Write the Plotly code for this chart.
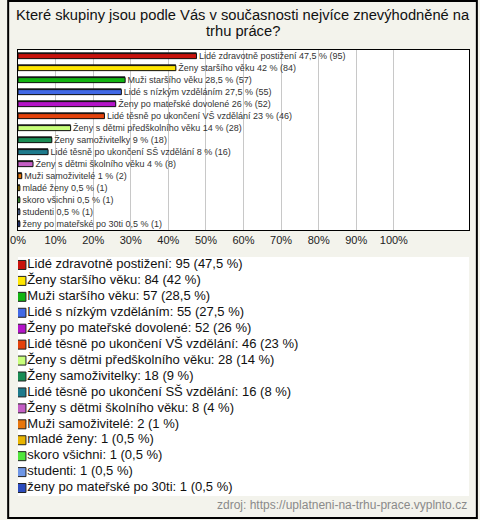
import plotly.graph_objects as go

categories = [
    "Lidé zdravotně postižení",
    "Ženy staršího věku",
    "Muži staršího věku",
    "Lidé s nízkým vzděláním",
    "Ženy po mateřské dovolené",
    "Lidé těsně po ukončení VŠ vzdělání",
    "Ženy s dětmi předškolního věku",
    "Ženy samoživitelky",
    "Lidé těsně po ukončení SŠ vzdělání",
    "Ženy s dětmi školního věku",
    "Muži samoživitelé",
    "mladé ženy",
    "skoro všichni",
    "studenti",
    "ženy po mateřské po 30ti",
]
counts = [95, 84, 57, 55, 52, 46, 28, 18, 16, 8, 2, 1, 1, 1, 1]
percents = [47.5, 42, 28.5, 27.5, 26, 23, 14, 9, 8, 4, 1, 0.5, 0.5, 0.5, 0.5]
colors = [
    "#c8120c", "#ffe600", "#12b412", "#4169e6", "#b414c8",
    "#e4420c", "#c8ff7a", "#1a8c54", "#1e7a8c", "#c45ec4",
    "#e8760c", "#e8b400", "#50e63c", "#6e96e6", "#2c4cbe",
]
tick_values = [0, 10, 20, 30, 40, 50, 60, 70, 80, 90, 100]
tick_labels = [f"{v}%" for v in tick_values]
source_text = "zdroj: https://uplatneni-na-trhu-prace.vyplnto.cz"
title_lines = ["Které skupiny jsou podle Vás v současnosti nejvíce znevýhodněné na", "trhu práce?"]


def fmt(p):
    s = f"{p:g}"
    return s.replace(".", ",")


bar_text = [f"\u00a0{c} {fmt(p)} % ({n})" for c, p, n in zip(categories, percents, counts)]
legend_text = [f"{c}: {n} ({fmt(p)} %)" for c, p, n in zip(categories, percents, counts)]

W, H = 480, 520
L, R, T, B = 11, 10, 50, 22
area_h = H - T - B  # 448
area_w = W - L - R  # 459


def py(y):
    return (H - B - y) / area_h


def px(x):
    return (x - L) / area_w


FONT = "Liberation Sans, Arial, sans-serif"

fig = go.Figure()

# shadow (depth) bars
fig.add_trace(go.Bar(
    x=percents, y=categories, orientation="h",
    marker=dict(color="#222222", line=dict(width=0)),
    width=0.5, offset=-0.32, hoverinfo="skip", showlegend=False,
))
fig.add_trace(go.Bar(
    x=percents, y=categories, orientation="h",
    marker=dict(color=colors, line=dict(color="#111111", width=1)),
    width=0.42, offset=-0.2,
    text=bar_text, textposition="outside", cliponaxis=False,
    constraintext="none",
    textfont=dict(family=FONT, size=9, color="#333333"),
    showlegend=False,
))

# legend: square swatches and labels on their own axes (pixel-like units)
legend_rows = list(range(len(categories)))
fig.add_trace(go.Scatter(
    x=[3.5] * len(categories), y=legend_rows,
    mode="markers",
    marker=dict(symbol="square", size=9, color=colors, line=dict(color="#222222", width=1)),
    xaxis="x2", yaxis="y2", showlegend=False, hoverinfo="skip",
))
fig.add_trace(go.Scatter(
    x=[9.5] * len(categories), y=legend_rows,
    mode="text",
    text=legend_text, textposition="middle right",
    textfont=dict(family=FONT, size=13, color="#111111"),
    xaxis="x2", yaxis="y2", showlegend=False, hoverinfo="skip",
))

fig.update_layout(
    width=W, height=H,
    margin=dict(l=L, r=R, t=T, b=B, pad=0),
    paper_bgcolor="#f3f3ec",
    plot_bgcolor="#ffffff",
    barmode="overlay",
    bargap=0.5,
    xaxis=dict(
        range=[0, 120], tickvals=tick_values, ticktext=tick_labels,
        showgrid=True, gridcolor="#c8c8c8", gridwidth=1,
        showline=True, linecolor="#000000", linewidth=1, mirror=True,
        zeroline=False, ticks="", ticklen=0,
        tickfont=dict(family=FONT, size=11, color="#222222"),
        fixedrange=True,
    ),
    yaxis=dict(
        domain=[py(230), 1.0],
        autorange="reversed", showticklabels=False, ticks="",
        showgrid=False, showline=True, linecolor="#000000", linewidth=1, mirror=True,
        fixedrange=True,
    ),
    xaxis2=dict(
        domain=[0, 1], range=[0, area_w], visible=False, anchor="y2", fixedrange=True,
    ),
    yaxis2=dict(
        domain=[py(496), py(257)], range=[len(categories) - 0.5, -0.5],
        visible=False, anchor="x2", fixedrange=True,
    ),
    shapes=[dict(
        type="rect", xref="paper", yref="paper",
        x0=px(1), x1=px(478), y0=py(518), y1=py(1),
        line=dict(color="#000000", width=2), fillcolor="rgba(0,0,0,0)", layer="below",
    )],
    annotations=[
        dict(text=title_lines[0], xref="paper", yref="paper", x=px(240), y=py(15),
             xanchor="center", yanchor="middle", showarrow=False,
             font=dict(family=FONT, size=14.7, color="#111111")),
        dict(text=title_lines[1], xref="paper", yref="paper", x=px(240), y=py(31),
             xanchor="center", yanchor="middle", showarrow=False,
             font=dict(family=FONT, size=14.7, color="#111111")),
        dict(text=source_text, xref="paper", yref="paper", x=px(470), y=py(505),
             xanchor="right", yanchor="middle", showarrow=False,
             font=dict(family=FONT, size=12, color="#8a8a8a")),
    ],
)

fig.write_html(
    "out.html",
    config={"displayModeBar": False},
    post_script="document.body.style.margin='0';document.body.style.padding='0';document.body.style.overflow='hidden';",
)
